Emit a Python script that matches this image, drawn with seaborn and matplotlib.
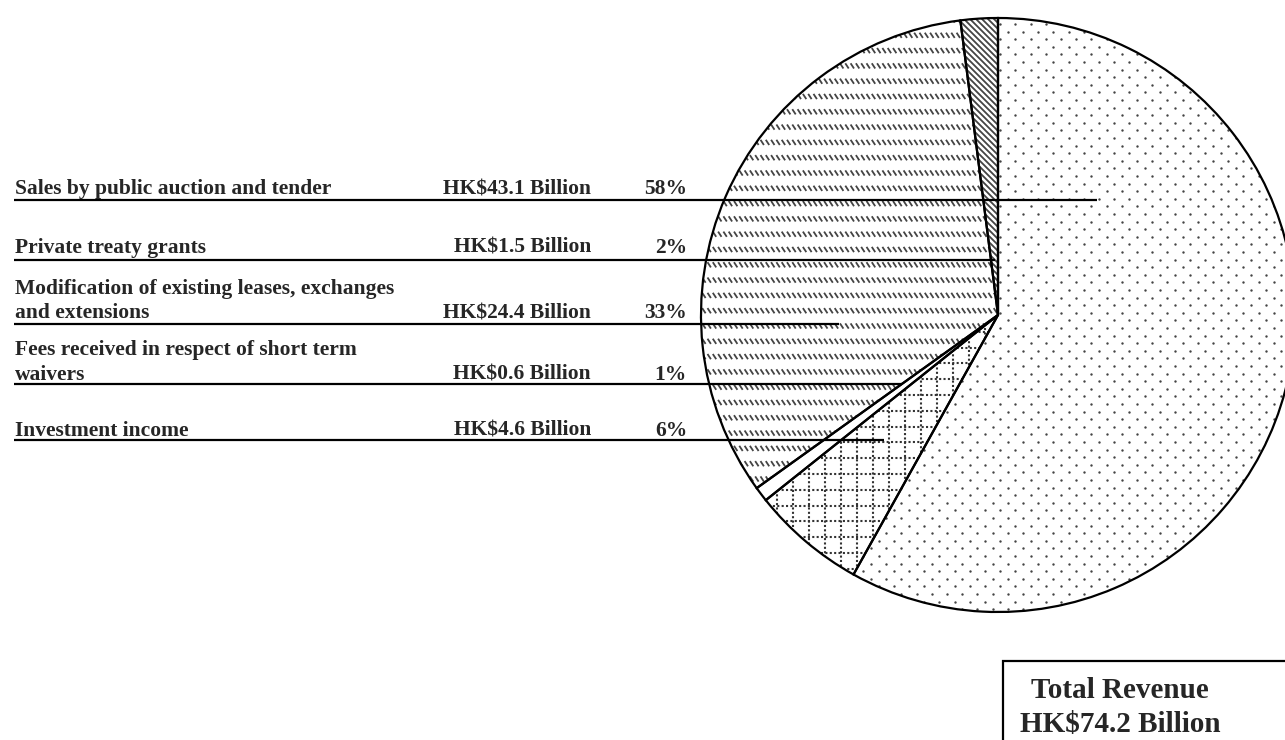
import numpy as np
import matplotlib
matplotlib.use("Agg")
import matplotlib.pyplot as plt
from matplotlib import font_manager
from matplotlib.font_manager import FontProperties
from matplotlib.collections import LineCollection
from matplotlib.patches import Rectangle
import matplotlib.patheffects as pe
import seaborn as sns

# Land revenue by source (HK$ billion)
categories = [
    "Sales by public auction and tender",
    "Private treaty grants",
    "Modification of existing leases, exchanges\nand extensions",
    "Fees received in respect of short term\nwaivers",
    "Investment income",
]
values = [43.1, 1.5, 24.4, 0.6, 4.6]
# Order in which the slices run clockwise from twelve o'clock
pie_order = [0, 4, 3, 2, 1]

sns.set_style("white")
plt.rcParams["font.family"] = ["Liberation Serif", "DejaVu Serif"]

# Bold serif face; thicken strokes if no bold file is available
bold_path = font_manager.findfont(FontProperties(family="Liberation Serif", weight="bold"))
if "bold" in bold_path.lower():
    def fp(size):
        return FontProperties(fname=bold_path, size=size)
    effects = []
else:
    def fp(size):
        return FontProperties(family="Liberation Serif", weight="bold", size=size)
    effects = [pe.withStroke(linewidth=0.8, foreground="black")]

W, H = 1285, 740
fig = plt.figure(figsize=(W / 100, H / 100), dpi=100)
ax = fig.add_axes([0, 0, 1, 1])


def Y(py):
    """Convert a top-down pixel row into the axis' bottom-up coordinate."""
    return H - py


total = sum(values)
pcts = [round(v / total * 100) for v in values]

cx, cy, r = 998, Y(315), 297
pie_vals = [values[i] for i in pie_order]

# Base wedges (white fill) and a separate outline layer on top
wedges, _ = ax.pie(pie_vals, startangle=90, counterclock=False,
                   center=(cx, cy), radius=r,
                   wedgeprops=dict(facecolor="white", edgecolor="none", zorder=1))
outline, _ = ax.pie(pie_vals, startangle=90, counterclock=False,
                    center=(cx, cy), radius=r,
                    wedgeprops=dict(fill=False, edgecolor="black", linewidth=1.6, zorder=3))
ax.set_xlim(0, W)
ax.set_ylim(0, H)
ax.set_aspect("equal")
ax.axis("off")

wedge_of = {cat_idx: wedges[k] for k, cat_idx in enumerate(pie_order)}
x0, x1 = cx - r - 20, cx + r + 20
y0, y1 = cy - r - 20, cy + r + 20

# Sales: staggered dot texture
rows = np.arange(y0, y1, 7.6)
px, py = [], []
for j, yy in enumerate(rows):
    xs = np.arange(x0 + (j % 2) * 7.6, x1, 15.2)
    px.extend(xs)
    py.extend([yy] * len(xs))
sc = ax.scatter(px, py, s=3.0, color="#444444", linewidths=0, zorder=2)
sc.set_clip_path(wedge_of[0])

# Investment income: dotted square grid
segs = [[(xx, y0), (xx, y1)] for xx in np.arange(x0, x1, 16)]
segs += [[(x0, yy), (x1, yy)] for yy in np.arange(y0, y1, 15.8)]
lc = LineCollection(segs, colors="#333333", linewidths=1.5,
                    linestyles=[(0, (1.0, 1.1))], zorder=2)
ax.add_collection(lc)
lc.set_clip_path(wedge_of[4])

# Modification: rows of short diagonal strokes
segs = []
for yy in np.arange(y0, y1, 15.3):
    for xx in np.arange(x0, x1, 5.3):
        segs.append([(xx, yy + 2.6), (xx + 3.4, yy - 2.6)])
lc2 = LineCollection(segs, colors="#444444", linewidths=1.3, zorder=2)
ax.add_collection(lc2)
lc2.set_clip_path(wedge_of[2])

# Private treaty grants: dense diagonal lines
segs = []
span = (x1 - x0) + (y1 - y0)
for c in np.arange(-span, span, 6.0):
    segs.append([(x0 + c, y1), (x0 + c + (y1 - y0), y0)])
lc3 = LineCollection(segs, colors="#444444", linewidths=1.3, zorder=2)
ax.add_collection(lc3)
lc3.set_clip_path(wedge_of[1])

# Label rows on the left with leader lines into the pie
baselines = [[194], [253], [294, 318], [355, 379.5], [435.5]]
rule_y = [200, 260, 323.5, 384, 439.5]
rule_end = [1097, 995, 839, 902, 884]
fs = 15.5
for i, cat in enumerate(categories):
    for line, b in zip(cat.split("\n"), baselines[i]):
        ax.text(15, Y(b), line, fontproperties=fp(fs), path_effects=effects,
                ha="left", va="baseline", zorder=5)
    last = baselines[i][-1]
    ax.text(591, Y(last), f"HK${values[i]:.1f} Billion", fontproperties=fp(fs),
            path_effects=effects, ha="right", va="baseline", zorder=5)
    ax.text(687, Y(last), f"{pcts[i]}%", fontproperties=fp(fs),
            path_effects=effects, ha="right", va="baseline", zorder=5)
    ax.plot([14, rule_end[i]], [Y(rule_y[i])] * 2, color="black",
            linewidth=1.6, solid_capstyle="butt", zorder=4)

# Total revenue box
ax.add_patch(Rectangle((1003, Y(740) - 10), 400, Y(661) - Y(740) + 10,
                       facecolor="white", edgecolor="black", linewidth=1.6,
                       zorder=5, clip_on=False))
ax.text(1120, Y(698), "Total Revenue", fontproperties=fp(21), path_effects=effects,
        ha="center", va="baseline", zorder=6)
ax.text(1120, Y(732), f"HK${total:.1f} Billion", fontproperties=fp(21),
        path_effects=effects, ha="center", va="baseline", zorder=6)

fig.savefig("out.png", dpi=100, facecolor="white")
